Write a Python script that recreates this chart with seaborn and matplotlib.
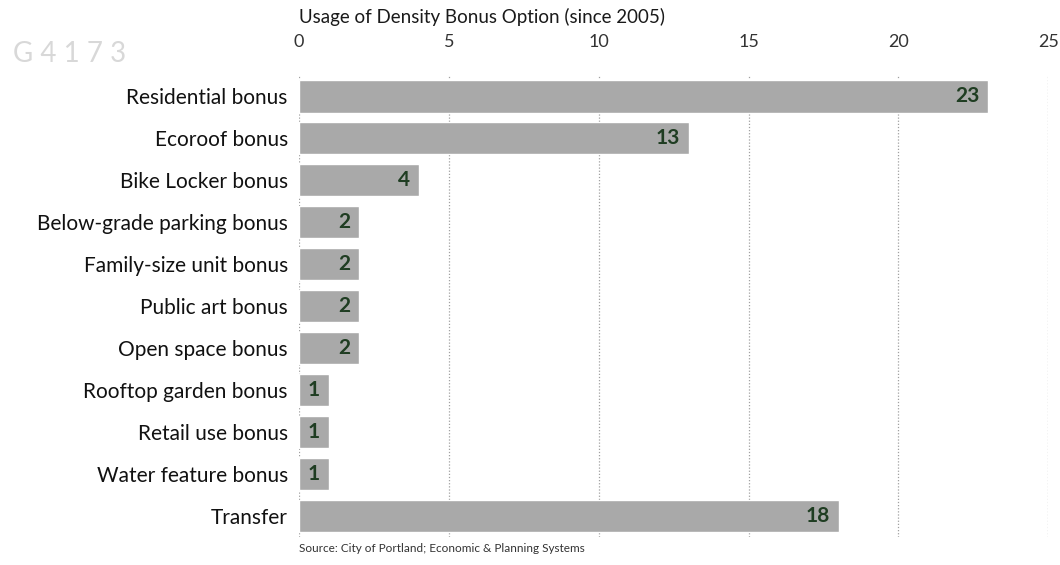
import matplotlib
matplotlib.use("Agg")
import matplotlib.pyplot as plt
import seaborn as sns
import pandas as pd

categories = [
    "Residential bonus",
    "Ecoroof bonus",
    "Bike Locker bonus",
    "Below-grade parking bonus",
    "Family-size unit bonus",
    "Public art bonus",
    "Open space bonus",
    "Rooftop garden bonus",
    "Retail use bonus",
    "Water feature bonus",
    "Transfer",
]
usage = [23, 13, 4, 2, 2, 2, 2, 1, 1, 1, 18]
x_ticks = [0, 5, 10, 15, 20, 25]

df = pd.DataFrame({"option": categories, "count": usage})

sns.set_theme(style="white")
plt.rcParams["font.family"] = ["Lato", "DejaVu Sans"]

fig = plt.figure(figsize=(10.6, 5.65), dpi=100)
ax = fig.add_axes([0.282, 0.0496, 0.707, 0.817])

sns.barplot(data=df, x="count", y="option", order=categories, color="#a9a9a9",
            saturation=1, width=0.77, ax=ax)

ax.set_xlim(0, 25)
ax.set_ylim(len(categories) - 0.5, -0.5)
ax.set_xticks(x_ticks)
ax.xaxis.tick_top()
ax.tick_params(axis="x", length=0, pad=18, labelsize=13, labelcolor="#333333")
ax.tick_params(axis="y", length=0, pad=8, labelsize=15, labelcolor="#111111")
ax.set_xlabel("")
ax.set_ylabel("")
for s in ax.spines.values():
    s.set_visible(False)

for t in x_ticks:
    ax.axvline(t, color="#a0a0a0", linestyle=(0, (1, 1.5)), linewidth=0.9, zorder=0)

for i, v in enumerate(usage):
    ax.text(v - 0.3, i, str(v), ha="right", va="center", fontsize=15,
            fontweight="bold", color="#1f3d22")

fig.text(0.282, 0.97, "Usage of Density Bonus Option (since 2005)", ha="left",
         va="center", fontsize=13.5, color="#1a1a1a")
fig.text(0.282, 0.03, "Source: City of Portland; Economic & Planning Systems",
         ha="left", va="center", fontsize=8.5, color="#333333")
fig.text(0.012, 0.905, "G 4 1 7 3", ha="left", va="center", fontsize=20,
         color="#d8d8d8")

fig.savefig("out.png", dpi=100, facecolor="white")
